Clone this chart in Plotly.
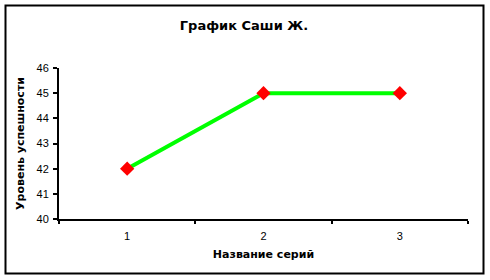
import plotly.graph_objects as go

categories = ["1", "2", "3"]
values = [42, 45, 45]
y_ticks = [40, 41, 42, 43, 44, 45, 46]

W, H = 490, 280
L, R, T, B = 59, 468, 68, 219
pw, ph = R - L, B - T

fig = go.Figure()
fig.add_trace(go.Scatter(
    x=categories, y=values, mode="lines+markers",
    line=dict(color="#00FF00", width=4),
    marker=dict(symbol="diamond", size=11, color="#FF0000"),
    showlegend=False, cliponaxis=False,
))

font = "Liberation Sans, Arial, sans-serif"
tfont = "DejaVu Sans, Verdana, sans-serif"
fig.update_layout(
    width=W, height=H,
    margin=dict(l=L, r=W - R, t=T, b=H - B, pad=0),
    paper_bgcolor="white", plot_bgcolor="white",
    font=dict(family=font, size=11, color="black"),
    title=dict(text="<b>График Саши Ж.</b>", x=244 / W, xanchor="center",
               y=1 - 25 / H, yanchor="middle", yref="container",
               font=dict(size=13, family=tfont)),
    xaxis=dict(type="category", range=[-0.5, 2.5], tickson="boundaries", ticks="outside", ticklen=3,
               tickwidth=2, tickcolor="black", showline=True, linewidth=2, linecolor="black",
               showgrid=False, zeroline=False, ticklabelstandoff=6,
               title=dict(text="<b>Название серий</b>", standoff=9, font=dict(size=11, family=tfont))),
    yaxis=dict(range=[40, 46], tickvals=y_ticks, ticks="outside", ticklen=4, tickwidth=2,
               tickcolor="black", showline=True, linewidth=2, linecolor="black",
               showgrid=False, zeroline=False, ticklabelstandoff=2,
               title=dict(text="<b>Уровень успешности</b>", standoff=10, font=dict(size=11, family=tfont))),
    shapes=[dict(type="rect", xref="paper", yref="paper",
                 x0=(5.5 - L) / pw, x1=(483.5 - L) / pw,
                 y0=(B - 273.5) / ph, y1=(B - 5.5) / ph,
                 line=dict(color="black", width=2), fillcolor="rgba(0,0,0,0)", layer="below")],
)

fig.write_html("out.html")
